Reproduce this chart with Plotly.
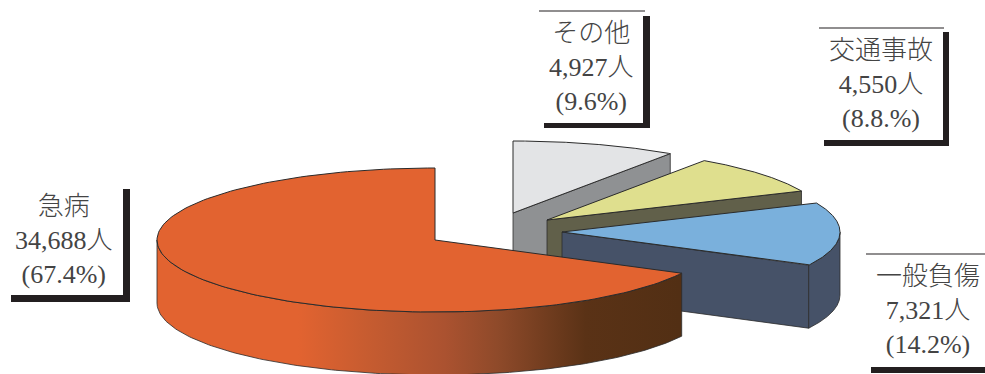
import numpy as np
import plotly.graph_objects as go

# values
categories = ['急病', '一般負傷', '交通事故', 'その他']
counts = [34688, 7321, 4550, 4927]
count_labels = ['34,688人', '7,321人', '4,550人', '4,927人']
pct_labels = ['(67.4%)', '(14.2%)', '(8.8.%)', '(9.6%)']

top_colors = ['#E26330', '#7AB0DC', '#DFDF8E', '#E3E4E6']
wall_colors = ['#E26330', '#465268', '#61604A', '#8F9193']
edge = '#2b2b2b'

# pie geometry, in page pixels
CX, CY = 435, 240
RX, RY = 278, 72
DEPTH = 63
offset_x = [0, 127, 112, 78]
offset_y = [0, -8, -20, -27]

# label boxes
label_x = [64, 928, 881, 591.5]
label_y = [240, 310.5, 84, 67.5]
top_rules = [None, (866, 985, 254), (819, 944, 28), (539, 645, 11)]
right_bars = [(123, 130, 189, 302), None, (943, 949, 32, 146), (643, 650, 16, 128)]
bottom_bars = [(11, 130, 295, 302), (871, 985, 367, 373), (824, 949, 140, 146), (544, 650, 123, 128)]

# slices start at 12 o'clock and run counter clockwise
fracs = np.array(counts) / sum(counts)
starts = 90 + 360 * np.concatenate([[0], np.cumsum(fracs)[:-1]])
ends = starts + 360 * fracs


def arc(i, a0, a1, n=160):
    t = np.radians(np.linspace(a0, a1, n))
    cx = CX + offset_x[i]
    cy = CY + offset_y[i]
    return cx + RX * np.cos(t), cy - RY * np.sin(t)


def add_poly(fig, x, y, color, name, width=1.0, gradient=None):
    kw = dict(fillgradient=gradient) if gradient else dict(fillcolor=color)
    fig.add_trace(go.Scatter(x=np.r_[x, x[0]], y=np.r_[y, y[0]], mode='lines', fill='toself',
                             line=dict(color=edge, width=width), name=name, hoverinfo='name',
                             showlegend=False, **kw))


fig = go.Figure()

# back slices first: その他, 交通事故, 一般負傷, then 急病 in front
for i in [3, 2, 1, 0]:
    a0, a1 = starts[i], ends[i]
    cx = CX + offset_x[i]
    cy = CY + offset_y[i]

    if i != 0:
        # the radial face that looks to the viewer
        ex, ey = arc(i, a0, a0, 1)
        add_poly(fig, [cx, ex[0], ex[0], cx], [cy, ey[0], ey[0] + DEPTH, cy + DEPTH],
                 wall_colors[i], categories[i], width=0.8)

    # outer wall, only where the rim faces front (180-360 deg)
    w0 = max(a0, 180) if a0 < 360 else a0
    w1 = min(a1, 360)
    if i == 1:
        w0, w1 = a0, 360
    if w1 > w0 and i in (0, 1):
        wx, wy = arc(i, w0, w1)
        grad = None
        if i == 0:
            grad = dict(type='horizontal', start=157, stop=680,
                        colorscale=[[0, '#E26330'], [0.27, '#E26330'], [0.4, '#C75C30'],
                                    [0.55, '#AB5230'], [0.65, '#8F4A2A'], [0.82, '#5A3216'],
                                    [1, '#522F14']])
        add_poly(fig, np.r_[wx, wx[::-1]], np.r_[wy, wy[::-1] + DEPTH],
                 wall_colors[i], categories[i], width=0.8, gradient=grad)

    # top face
    tx, ty = arc(i, a0, a1)
    add_poly(fig, np.r_[cx, tx], np.r_[cy, ty], top_colors[i], categories[i])

# label boxes
for rule in top_rules:
    if rule:
        fig.add_shape(type='line', x0=rule[0], x1=rule[1], y0=rule[2], y1=rule[2],
                      line=dict(color='#231F20', width=1.2))
for bar in right_bars:
    if bar:
        fig.add_shape(type='rect', x0=bar[0], x1=bar[1], y0=bar[2], y1=bar[3],
                      fillcolor='#231F20', line=dict(width=0))
for bar in bottom_bars:
    fig.add_shape(type='rect', x0=bar[0], x1=bar[1], y0=bar[2], y1=bar[3],
                  fillcolor='#231F20', line=dict(width=0))

for i in range(4):
    fig.add_annotation(x=label_x[i], y=label_y[i], showarrow=False, align='center',
                       text='<br>'.join([categories[i], count_labels[i], pct_labels[i]]),
                       font=dict(family='Liberation Serif, Noto Sans CJK JP', size=26,
                                 color='#444444', weight=300))

fig.update_layout(
    width=985, height=374,
    margin=dict(l=0, r=0, t=0, b=0),
    paper_bgcolor='white', plot_bgcolor='white',
    xaxis=dict(range=[0, 985], visible=False, fixedrange=True),
    yaxis=dict(range=[374, 0], visible=False, fixedrange=True),
)

fig.write_html('out.html', config=dict(displayModeBar=False),
               post_script="document.body.style.margin='0';document.body.style.overflow='hidden';")
